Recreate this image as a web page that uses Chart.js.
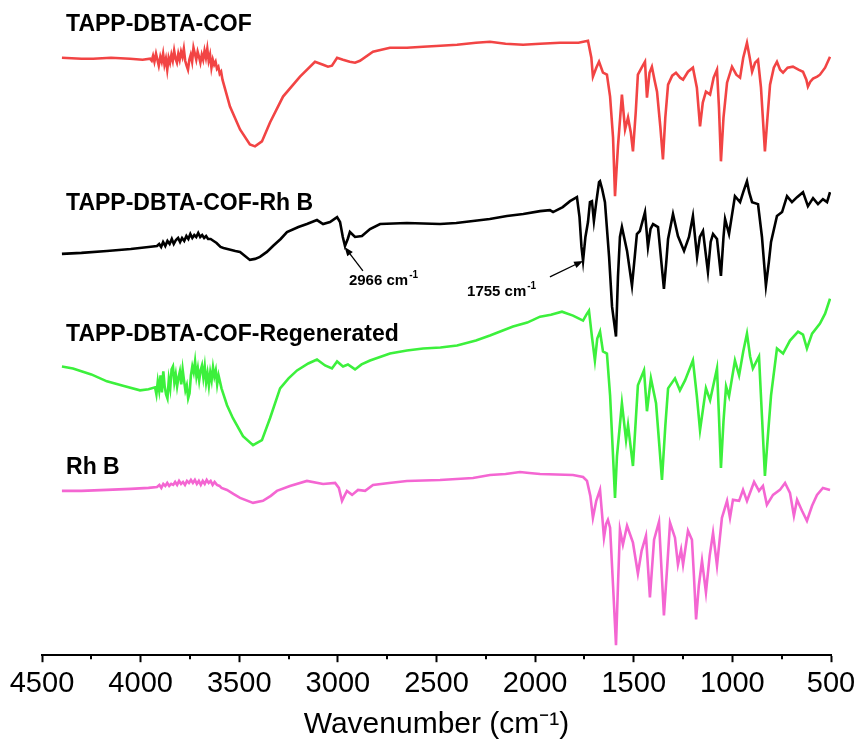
<!DOCTYPE html>
<html lang="en">
<head>
<meta charset="UTF-8">
<title>FTIR spectra</title>
<style>
   body { margin: 0; background: #fff; }
   #wrap { width: 857px; height: 747px; }
</style>
</head>
<body>
<div id="wrap"><canvas id="myChart"></canvas></div>
<script src="https://cdn.jsdelivr.net/npm/chart.js"></script>
<script>
// [wavenumber (cm-1), offset transmittance (a.u.)]
const cofSpectrum = [
   [4399,600],[4300,599],[4241,599],[4150,600],[4054,599],[3990,598],[3952,599],
   [3944,597],[3937,602],[3930,596],[3922,604],[3915,598],[3908,592],[3900,601],[3893,596],[3886,604],
   [3879,593],[3872,599],[3865,588],[3858,600],[3851,595],[3844,603],[3837,597],[3830,607],[3823,599],
   [3816,595],[3809,604],[3802,598],[3795,606],[3788,601],[3781,609],[3774,597],[3767,592],[3760,588],
   [3753,598],[3746,603],[3739,596],[3732,610],[3725,604],[3718,598],[3711,606],[3704,601],[3697,595],
   [3690,603],[3683,598],[3676,607],[3669,600],[3662,609],[3655,597],[3648,603],[3641,590],[3634,598],
   [3627,593],[3620,596],[3613,589],[3606,591],[3599,584],[3592,586],[3585,578],
   [3547,551],[3496,528],[3446,513],[3420,511],[3385,516],[3344,535],[3278,561],[3192,581],[3116,596],
   [3075,593],[3050,591],[3030,592],[3004,600],[2974,598],[2940,596],[2913,595],[2888,597],[2822,606],
   [2736,610],[2650,610],[2568,611],[2480,612],[2396,613],[2300,615],[2229,616],[2150,614],[2061,613],
   [1975,614],[1874,615],[1780,615],[1732,617],[1715,600],[1707,581],[1690,590],[1676,596],[1656,585],
   [1636,583],[1620,561],[1605,520],[1595,461],[1588,485],[1580,511],[1560,563],[1544,528],[1529,540],
   [1515,525],[1504,506],[1490,545],[1479,583],[1460,590],[1443,596],[1433,560],[1420,585],[1408,591],
   [1395,578],[1382,566],[1365,530],[1352,498],[1340,540],[1326,573],[1305,582],[1286,585],[1265,580],
   [1250,578],[1225,586],[1200,590],[1180,570],[1164,531],[1150,555],[1134,566],[1113,563],[1095,580],
   [1078,588],[1068,550],[1058,496],[1045,540],[1027,575],[1002,591],[980,583],[961,580],[945,600],
   [926,615],[912,600],[900,586],[885,595],[870,598],[855,570],[835,506],[822,540],[809,573],[790,590],
   [774,596],[758,588],[743,585],[720,590],[693,591],[665,588],[642,586],[625,578],[617,571],[605,576],
   [591,579],[570,581],[556,583],[530,590],[505,601]
];
const cofRhbSpectrum = [
   [4399,403],[4300,404],[4171,406],[4050,408],[3960,410],[3917,411],[3906,413],[3896,410],[3886,415],
   [3875,411],[3864,416],[3853,413],[3842,418],[3832,413],[3821,417],[3810,419],[3800,415],[3790,419],
   [3779,416],[3768,421],[3758,418],[3748,423],[3738,419],[3728,422],[3718,420],[3708,424],[3698,420],
   [3688,422],[3678,419],[3668,421],[3658,418],[3645,418],[3630,416],[3615,414],[3595,410],[3580,409],
   [3560,408],[3520,406],[3496,405],[3446,397],[3420,398],[3395,400],[3360,405],[3329,411],[3290,418],
   [3258,425],[3200,430],[3157,433],[3106,437],[3075,433],[3040,435],[3004,440],[2989,435],[2975,420],
   [2964,411],[2950,418],[2939,425],[2913,420],[2878,421],[2837,428],[2786,433],[2650,434],[2482,433],
   [2400,434],[2315,436],[2230,438],[2143,441],[2060,443],[1975,446],[1925,447],[1909,445],[1860,450],
   [1823,456],[1788,460],[1775,440],[1765,410],[1757,396],[1745,420],[1732,435],[1722,455],[1712,456],
   [1702,436],[1690,455],[1676,475],[1671,476],[1660,468],[1646,455],[1625,400],[1610,350],[1590,320],
   [1580,380],[1570,420],[1560,430],[1534,406],[1509,371],[1495,400],[1484,423],[1469,426],[1443,445],
   [1428,410],[1415,428],[1402,433],[1377,430],[1347,368],[1335,395],[1326,418],[1301,443],[1276,421],
   [1245,406],[1220,420],[1200,441],[1179,400],[1165,420],[1149,426],[1124,385],[1110,415],[1098,423],
   [1078,418],[1058,381],[1045,420],[1037,438],[1017,423],[987,461],[961,455],[945,465],[926,476],
   [915,465],[900,455],[870,453],[850,420],[830,371],[815,395],[804,415],[774,441],[748,445],[723,461],
   [698,455],[672,460],[642,465],[617,451],[591,459],[566,453],[541,458],[520,455],[505,465]
];
const cofRegenSpectrum = [
   [4399,290],[4343,288],[4250,282],[4171,275],[4080,270],[4003,266],[3960,267],[3927,269],[3920,262],
   [3913,275],[3906,266],[3899,281],[3892,264],[3885,285],[3878,270],[3871,262],[3864,258],[3857,277],
   [3850,268],[3843,287],[3836,290],[3829,274],[3822,282],[3815,270],[3808,279],[3801,285],[3794,272],
   [3787,287],[3780,276],[3773,266],[3766,271],[3759,258],[3752,263],[3745,281],[3738,290],[3731,284],
   [3724,295],[3717,280],[3710,288],[3703,276],[3696,286],[3689,291],[3682,279],[3675,290],[3668,274],
   [3661,283],[3654,271],[3647,284],[3640,276],[3633,289],[3626,280],[3619,286],[3612,272],[3605,281],
   [3598,275],[3590,268],[3580,262],[3562,251],[3532,238],
   [3481,220],[3430,211],[3385,216],[3344,238],[3293,268],[3250,278],[3207,286],[3150,293],[3106,297],
   [3065,291],[3030,288],[3004,295],[2974,290],[2949,292],[2913,287],[2880,292],[2837,296],[2736,303],
   [2650,306],[2568,308],[2480,309],[2396,311],[2300,316],[2229,321],[2112,330],[2040,334],[1975,340],
   [1920,342],[1864,345],[1808,341],[1757,336],[1740,342],[1727,346],[1712,320],[1697,296],[1685,318],
   [1671,325],[1656,305],[1636,303],[1620,261],[1605,200],[1595,158],[1585,200],[1560,253],[1539,216],
   [1529,231],[1504,190],[1490,235],[1479,271],[1448,286],[1433,245],[1413,278],[1387,253],[1370,210],
   [1357,176],[1340,230],[1326,268],[1291,278],[1266,266],[1240,276],[1200,296],[1180,260],[1164,226],
   [1134,268],[1113,256],[1078,288],[1068,240],[1058,188],[1045,235],[1032,270],[1017,260],[987,296],
   [966,281],[945,305],[926,323],[910,300],[896,288],[865,300],[850,240],[835,180],[820,220],[804,261],
   [774,308],[743,303],[708,316],[667,325],[642,322],[622,308],[596,323],[556,333],[530,343],[505,358]
];
const rhbSpectrum = [
   [4399,165],[4300,165],[4171,166],[4050,167],[3960,168],[3917,169],[3905,171],[3895,168],[3885,172],
   [3875,170],[3865,173],[3855,170],[3845,172],[3835,171],[3825,174],[3815,171],[3805,175],[3795,172],
   [3785,174],[3775,171],[3765,175],[3755,173],[3745,176],[3735,173],[3725,176],[3715,172],[3705,175],
   [3695,171],[3685,175],[3675,172],[3665,176],[3655,173],[3645,175],[3635,171],[3625,174],[3613,171],
   [3600,170],[3590,168],[3562,166],[3530,162],
   [3496,158],[3430,153],[3380,155],[3340,160],[3309,165],[3243,170],[3157,175],[3075,172],[3014,173],
   [2995,168],[2979,155],[2967,160],[2954,165],[2928,161],[2898,166],[2862,165],[2822,171],[2740,173],
   [2650,175],[2482,176],[2315,178],[2229,181],[2150,182],[2077,184],[2030,183],[1975,182],[1808,181],
   [1757,179],[1737,175],[1720,160],[1707,138],[1690,155],[1671,166],[1660,140],[1651,118],[1640,132],
   [1631,136],[1620,128],[1605,70],[1590,10],[1580,70],[1570,126],[1555,111],[1534,130],[1504,113],
   [1479,82],[1460,105],[1438,120],[1418,58],[1397,116],[1372,134],[1347,40],[1330,90],[1316,133],
   [1291,118],[1276,91],[1260,106],[1250,91],[1225,125],[1205,116],[1195,80],[1184,36],[1170,70],
   [1154,95],[1134,63],[1115,100],[1098,123],[1078,90],[1053,138],[1027,155],[1012,138],[997,156],
   [966,155],[946,166],[926,155],[890,174],[865,165],[845,170],[825,151],[794,161],[759,166],[733,173],
   [708,163],[688,140],[672,156],[647,145],[622,135],[596,150],[571,161],[541,168],[505,166]
];

const seriesNames = ['TAPP-DBTA-COF', 'TAPP-DBTA-COF-Rh B', 'TAPP-DBTA-COF-Regenerated', 'Rh B'];
const seriesColors = ['#f24444', '#000000', '#3cf03c', '#f466d2'];
const spectra = [cofSpectrum, cofRhbSpectrum, cofRegenSpectrum, rhbSpectrum];
// where each name sits: [wavenumber, value]
const nameAnchors = [[4378, 627], [4378, 447], [4378, 316], [4378, 182]];
const xTicks = [4500, 4000, 3500, 3000, 2500, 2000, 1500, 1000, 500];
// peak notes: label, label anchor, arrow tail, arrow tip
const peakNotes = [
   { num: '2966', at: [2944, 372], from: [2873, 386], to: [2966, 410] },
   { num: '1755', at: [2345, 361], from: [1925, 380], to: [1757, 396] }
];

const FONT = "Arial, 'Liberation Sans', sans-serif";

const textPlugin = {
   id: 'ftirText',
   afterDraw(chart) {
      const c = chart.ctx, xs = chart.scales.x, ys = chart.scales.y;
      c.save();
      c.fillStyle = '#000';
      c.textBaseline = 'alphabetic';
      c.textAlign = 'left';
      c.font = 'bold 23px ' + FONT;
      seriesNames.forEach((n, i) => {
         c.fillText(n, xs.getPixelForValue(nameAnchors[i][0]), ys.getPixelForValue(nameAnchors[i][1]));
      });

      peakNotes.forEach(p => {
         const tx = xs.getPixelForValue(p.at[0]), ty = ys.getPixelForValue(p.at[1]);
         c.font = 'bold 15px ' + FONT;
         const s = p.num + ' cm';
         c.fillText(s, tx, ty);
         const w = c.measureText(s).width;
         c.font = 'bold 10px ' + FONT;
         c.fillText('-1', tx + w + 1, ty - 7);
         // arrow
         const x1 = xs.getPixelForValue(p.from[0]), y1 = ys.getPixelForValue(p.from[1]);
         const x2 = xs.getPixelForValue(p.to[0]), y2 = ys.getPixelForValue(p.to[1]);
         const a = Math.atan2(y2 - y1, x2 - x1);
         c.strokeStyle = '#000';
         c.lineWidth = 1.3;
         c.beginPath();
         c.moveTo(x1, y1);
         c.lineTo(x2 - 6 * Math.cos(a), y2 - 6 * Math.sin(a));
         c.stroke();
         c.beginPath();
         c.moveTo(x2, y2);
         c.lineTo(x2 - 9 * Math.cos(a) + 3.5 * Math.sin(a), y2 - 9 * Math.sin(a) - 3.5 * Math.cos(a));
         c.lineTo(x2 - 9 * Math.cos(a) - 3.5 * Math.sin(a), y2 - 9 * Math.sin(a) + 3.5 * Math.cos(a));
         c.closePath();
         c.fill();
      });

      // minor ticks halfway between the labelled ones
      c.strokeStyle = '#000';
      c.lineWidth = 2;
      const bottom = chart.chartArea.bottom;
      for (let i = 0; i < xTicks.length - 1; i++) {
         const px = Math.round(xs.getPixelForValue((xTicks[i] + xTicks[i + 1]) / 2));
         c.beginPath();
         c.moveTo(px, bottom);
         c.lineTo(px, bottom + 4);
         c.stroke();
      }
      c.restore();
   }
};

const ctx = document.getElementById('myChart').getContext('2d');

const myChart = new Chart(ctx, {
   type: 'line',
   data: {
      datasets: spectra.map((s, i) => ({
         label: seriesNames[i],
         data: s.map(p => ({ x: p[0], y: p[1] })),
         borderColor: seriesColors[i],
         borderWidth: 2.6,
         pointRadius: 0,
         tension: 0,
         fill: false
      }))
   },
   options: {
      responsive: true,
      maintainAspectRatio: false,
      animation: false,
      layout: { padding: { left: 42, right: 26, top: 0, bottom: 0 } },
      scales: {
         x: {
            type: 'linear',
            reverse: true,
            min: 500,
            max: 4500,
            border: { display: true, color: '#000', width: 2 },
            grid: { drawOnChartArea: false, drawTicks: true, tickLength: 7, tickColor: '#000', tickWidth: 2 },
            ticks: {
               stepSize: 500,
               padding: 4,
               color: '#000',
               font: { family: FONT, size: 29 },
               maxRotation: 0,
               autoSkip: false,
               callback: v => String(v)
            },
            afterBuildTicks: axis => { axis.ticks = xTicks.map(v => ({ value: v })); },
            afterFit: axis => { axis.paddingLeft = 0; axis.paddingRight = 0; },
            title: {
               display: true,
               text: 'Wavenumber (cm\u207B\u00B9)',
               color: '#000',
               font: { family: FONT, size: 30 },
               padding: { top: 2, bottom: 4 }
            }
         },
         y: { display: false, min: 0, max: 658 }
      },
      plugins: {
         legend: { display: false },
         tooltip: { enabled: false }
      }
   },
   plugins: [textPlugin]
});
</script>
</body>
</html>
